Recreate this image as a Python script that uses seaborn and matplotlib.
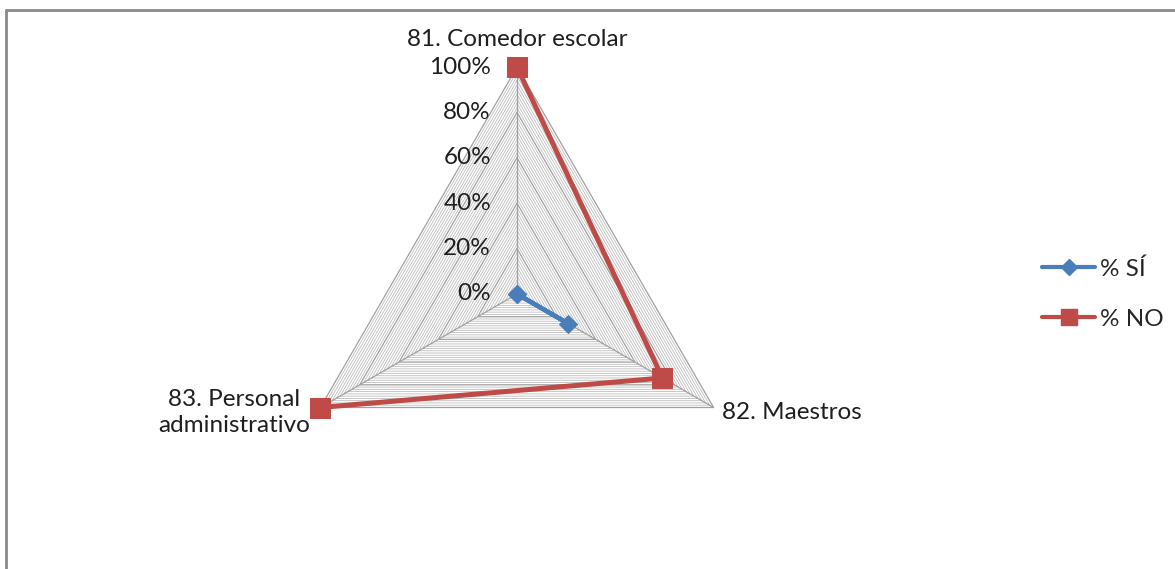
import matplotlib
matplotlib.use("Agg")
import matplotlib.pyplot as plt
from matplotlib.lines import Line2D
import numpy as np
import pandas as pd
import seaborn as sns

# values
categories = ["81. Comedor escolar", "82. Maestros", "83. Personal\nadministrativo"]
pct_si = [0, 26, 0]
pct_no = [100, 74, 100]
series_names = ["% SÍ", "% NO"]
radial_ticks = [0, 20, 40, 60, 80, 100]

BLUE = "#4a7ebb"
RED = "#be4b48"

sns.set_theme(style="white")
plt.rcParams["font.family"] = ["Lato", "DejaVu Sans"]

W, H = 1175, 569
fig = plt.figure(figsize=(W / 100, H / 100), dpi=100)

cx, cy, rad = 517, 294, 227
ax = fig.add_axes([(cx - rad) / W, (H - cy - rad) / H, 2 * rad / W, 2 * rad / H],
                  projection="polar")
ax.set_theta_offset(np.pi / 2)
ax.set_theta_direction(-1)
ax.set_ylim(0, 100)
ax.grid(False)
ax.spines["polar"].set_visible(False)
ax.set_xticks([])
ax.set_yticks([])
ax.patch.set_alpha(0)

n = len(categories)
theta = np.linspace(0, 2 * np.pi, n, endpoint=False)
theta_closed = np.append(theta, theta[0])

# triangular grid: minor every 2 %, major every 20 %
for level in range(2, 101, 2):
    major = level % 20 == 0
    ax.plot(theta_closed, [level] * (n + 1),
            color="#a0a0a0" if major else "#bdbdbd",
            lw=0.9 if major else 0.6, zorder=1, clip_on=False)
for t in theta:
    ax.plot([t, t], [0, 100], color="#a0a0a0", lw=0.9, zorder=1)

df = pd.DataFrame({
    "theta": np.concatenate([theta_closed, theta_closed]),
    "value": pct_si + pct_si[:1] + pct_no + pct_no[:1],
    "serie": [series_names[0]] * (n + 1) + [series_names[1]] * (n + 1),
})

sns.lineplot(data=df[df["serie"] == series_names[0]], x="theta", y="value",
             sort=False, color=BLUE, lw=3.2, marker="D", markersize=9.5,
             markeredgecolor=BLUE, ax=ax, zorder=4, legend=False, clip_on=False)
sns.lineplot(data=df[df["serie"] == series_names[1]], x="theta", y="value",
             sort=False, color=RED, lw=3.6, marker="s", markersize=15,
             markeredgecolor=RED, ax=ax, zorder=3, legend=False, clip_on=False)
ax.set_xlabel("")
ax.set_ylabel("")

fs = 17.5
for r in radial_ticks:
    ax.annotate(f"{r}%", xy=(0, r), xytext=(-26, 0), textcoords="offset pixels",
                ha="right", va="center", fontsize=fs, color="#1e1e1e")

label_offsets = [((0, 28), "center"), ((8, -5), "left"), ((-10, -5), "right")]
for t, lab, (off, ha) in zip(theta, categories, label_offsets):
    ax.annotate(lab, xy=(t, 100), xytext=off, textcoords="offset pixels",
                ha=ha, va="center", multialignment="center",
                fontsize=fs, color="#1e1e1e", annotation_clip=False,
                linespacing=1.25)

handles = [
    Line2D([], [], color=BLUE, lw=3, marker="D", markersize=8, markeredgecolor=BLUE),
    Line2D([], [], color=RED, lw=3, marker="s", markersize=11, markeredgecolor=RED),
]
fig.legend(handles, series_names, loc="center left",
           bbox_to_anchor=(1020 / W, 1 - 294 / H), frameon=False,
           fontsize=fs, handlelength=2.2, handletextpad=0.2, labelspacing=1.2)

# chart frame (only top and left edges fall inside the picture)
fig.add_artist(Line2D([6 / W, 1.01], [1 - 9.5 / H] * 2, transform=fig.transFigure,
                      color="#8a8a8a", lw=2))
fig.add_artist(Line2D([6 / W] * 2, [-0.01, 1 - 9.5 / H], transform=fig.transFigure,
                      color="#8a8a8a", lw=2))

fig.savefig("out.png", dpi=100)
